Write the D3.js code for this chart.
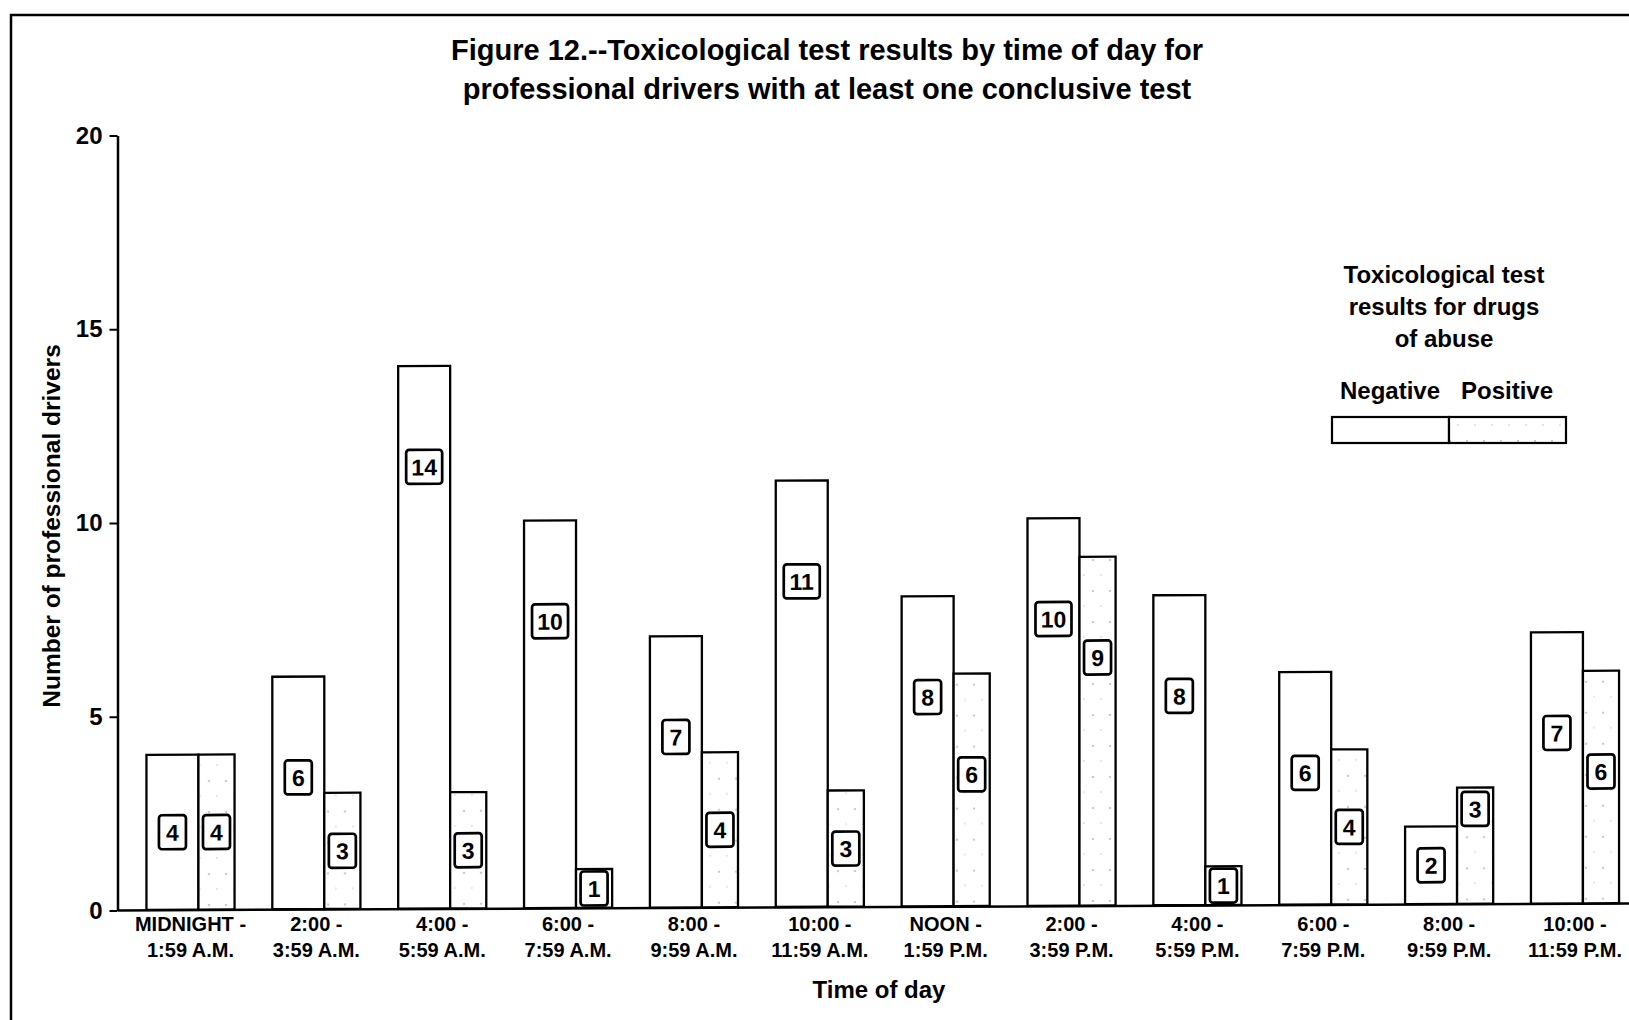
<!DOCTYPE html>
<html>
<head>
<meta charset="utf-8">
<script src="https://cdn.jsdelivr.net/npm/d3@7"></script>
<style>
  body { margin: 0; background: #fff; }
  svg text { font-family: "Liberation Sans", Arial, sans-serif; font-weight: bold; fill: #000; }
</style>
</head>
<body>
<script>
// data
const timeStart = ["MIDNIGHT -", "2:00 -", "4:00 -", "6:00 -", "8:00 -", "10:00 -",
                   "NOON -", "2:00 -", "4:00 -", "6:00 -", "8:00 -", "10:00 -"];
const timeEnd = ["1:59 A.M.", "3:59 A.M.", "5:59 A.M.", "7:59 A.M.", "9:59 A.M.", "11:59 A.M.",
                 "1:59 P.M.", "3:59 P.M.", "5:59 P.M.", "7:59 P.M.", "9:59 P.M.", "11:59 P.M."];
const negative = [4, 6, 14, 10, 7, 11, 8, 10, 8, 6, 2, 7];
const positive = [4, 3, 3, 1, 4, 3, 6, 9, 1, 4, 3, 6];
const yTicks = [0, 5, 10, 15, 20];
const categories = timeStart.map((s, i) => s + " " + timeEnd[i]);

const W = 1629, H = 1020;
const svg = d3.select("body").append("svg").attr("width", W).attr("height", H);
svg.append("rect").attr("width", W).attr("height", H).attr("fill", "#fff");

// sparse stipple for the positive bars
const defs = svg.append("defs");
const pat = defs.append("pattern").attr("id", "stipple")
  .attr("patternUnits", "userSpaceOnUse").attr("width", 17).attr("height", 31);
pat.append("rect").attr("width", 17).attr("height", 31).attr("fill", "#fff");
pat.append("circle").attr("cx", 5).attr("cy", 7).attr("r", 0.9).attr("fill", "#aaa");
pat.append("circle").attr("cx", 13).attr("cy", 22).attr("r", 0.8).attr("fill", "#c4c4c4");

// page frame (top and left edges)
svg.append("path").attr("d", "M11,1020 V15 H1629")
  .attr("fill", "none").attr("stroke", "#000").attr("stroke-width", 2.5);

// title
svg.append("text").attr("x", 827).attr("y", 60).attr("text-anchor", "middle")
  .attr("font-size", 29).text("Figure 12.--Toxicological test results by time of day for");
svg.append("text").attr("x", 827).attr("y", 99).attr("text-anchor", "middle")
  .attr("font-size", 29).text("professional drivers with at least one conclusive test");

const x = d3.scaleBand().domain(categories).range([117.5, 1648])
  .paddingInner(0.3).paddingOuter(0.23);
const y = d3.scaleLinear().domain([0, 20]).range([910.5, 135.5]);
const negFrac = 0.59;
const bw = x.bandwidth();

// y axis
const yAxis = svg.append("g").attr("transform", "translate(117.5,0)")
  .call(d3.axisLeft(y).tickValues(yTicks).tickSize(8).tickSizeOuter(0).tickPadding(7));
yAxis.select(".domain").attr("stroke-width", 2.5);
yAxis.selectAll(".tick line").attr("stroke-width", 2);
yAxis.selectAll(".tick text").attr("font-size", 24).attr("font-family", null);

// the scanned plot sags slightly to the left: baseline and bars lean a little
const plot = svg.append("g").attr("transform", "skewY(-0.26)");

// x axis line (in the skewed plot) and its labels (level)
const xAxis = plot.append("g").attr("transform", "translate(0," + y(0) + ")")
  .call(d3.axisBottom(x).tickSize(0).tickSizeOuter(0).tickFormat(""));
xAxis.select(".domain").attr("stroke-width", 2.5);
xAxis.selectAll(".tick text").remove();

const xLabels = svg.append("g").attr("transform", "translate(0,910)")
  .call(d3.axisBottom(x).tickSize(0).tickFormat(""));
xLabels.select(".domain").remove();
xLabels.selectAll(".tick text").remove();
xLabels.selectAll(".tick").append("text")
  .attr("font-size", 20).attr("text-anchor", "middle")
  .each(function(d, i) {
    const t = d3.select(this);
    t.append("tspan").attr("x", 0).attr("y", 21).text(timeStart[i]);
    t.append("tspan").attr("x", 0).attr("y", 47).text(timeEnd[i]);
  });

// bars
const groups = plot.append("g").selectAll("g").data(categories).enter().append("g");

groups.append("rect")
  .attr("x", d => x(d))
  .attr("y", (d, i) => y(negative[i]))
  .attr("width", bw * negFrac)
  .attr("height", (d, i) => y(0) - y(negative[i]))
  .attr("fill", "#fff").attr("stroke", "#000").attr("stroke-width", 2.3);

groups.append("rect")
  .attr("x", d => x(d) + bw * negFrac)
  .attr("y", (d, i) => y(positive[i]))
  .attr("width", bw * (1 - negFrac))
  .attr("height", (d, i) => y(0) - y(positive[i]))
  .attr("fill", "url(#stipple)").attr("stroke", "#000").attr("stroke-width", 2.3);

// boxed value labels
function labelPos(v, other, isPos) {
  if (isPos && v > other) return v - 0.55;
  return Math.max(v / 2, v - 2.6);
}
function addLabel(g, cx, v, other, isPos) {
  const cy = y(labelPos(v, other, isPos));
  const w = String(v).length > 1 ? 36 : 27;
  g.append("rect").attr("x", cx - w / 2).attr("y", cy - 17).attr("width", w).attr("height", 34)
    .attr("rx", 3).attr("fill", "#fff").attr("stroke", "#000").attr("stroke-width", 2.7);
  g.append("text").attr("x", cx).attr("y", cy + 8.5).attr("text-anchor", "middle")
    .attr("font-size", 23).text(v);
}
groups.each(function(d, i) {
  const g = d3.select(this);
  addLabel(g, x(d) + bw * negFrac / 2, negative[i], positive[i], false);
  addLabel(g, x(d) + bw * negFrac + bw * (1 - negFrac) / 2, positive[i], negative[i], true);
});

// axis titles
svg.append("text").attr("x", 879).attr("y", 998).attr("text-anchor", "middle")
  .attr("font-size", 24).text("Time of day");
svg.append("text").attr("transform", "translate(60,526) rotate(-90)")
  .attr("text-anchor", "middle").attr("font-size", 24.5).text("Number of professional drivers");

// legend
const legendTitle = ["Toxicological test", "results for drugs", "of abuse"];
const legendKeys = ["Negative", "Positive"];
const leg = svg.append("g");
leg.selectAll("text.lt").data(legendTitle).enter().append("text")
  .attr("x", 1444).attr("y", (d, i) => 283 + i * 32)
  .attr("text-anchor", "middle").attr("font-size", 24).text(d => d);
leg.selectAll("text.lk").data(legendKeys).enter().append("text")
  .attr("x", (d, i) => 1390 + i * 117).attr("y", 399)
  .attr("text-anchor", "middle").attr("font-size", 24).text(d => d);
leg.selectAll("rect").data(legendKeys).enter().append("rect")
  .attr("x", (d, i) => 1332 + i * 117).attr("y", 417)
  .attr("width", 117).attr("height", 26)
  .attr("fill", (d, i) => i ? "url(#stipple)" : "#fff")
  .attr("stroke", "#000").attr("stroke-width", 2.2);
</script>
</body>
</html>
